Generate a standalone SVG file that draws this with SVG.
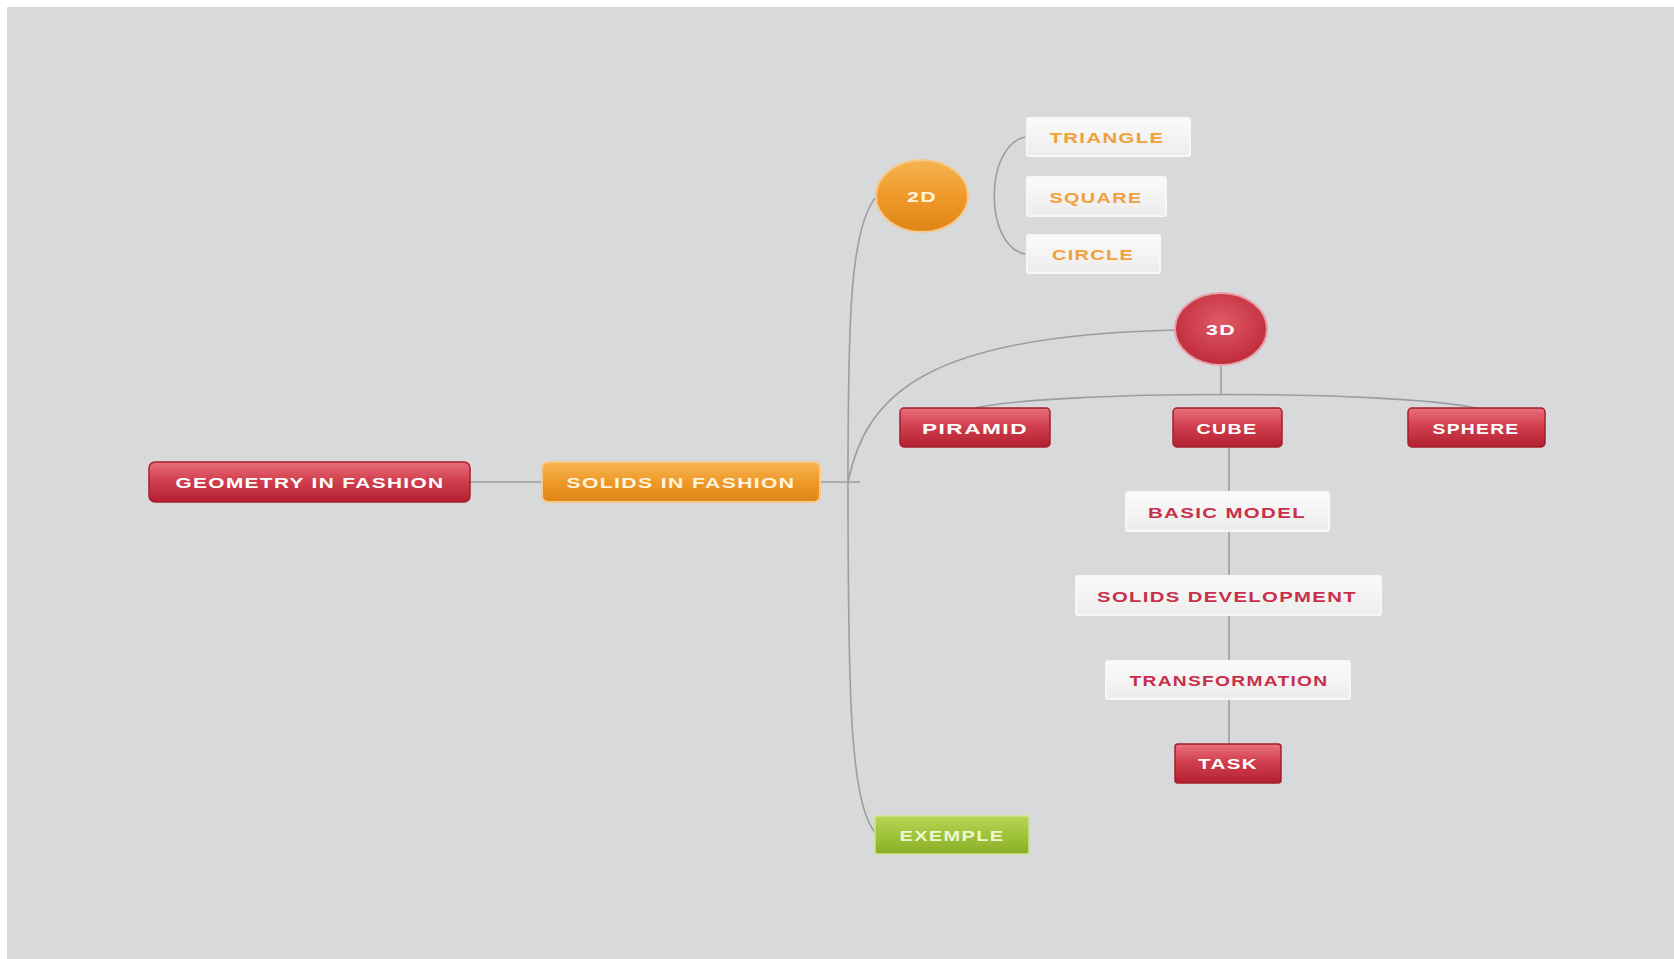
<svg xmlns="http://www.w3.org/2000/svg" width="1674" height="959" viewBox="0 0 1674 959">
<defs>
<linearGradient id="gRed" x1="0" y1="0" x2="0" y2="1">
<stop offset="0" stop-color="#e8707c"/><stop offset="0.45" stop-color="#d2404f"/><stop offset="1" stop-color="#b3202f"/>
</linearGradient>
<linearGradient id="gOrange" x1="0" y1="0" x2="0" y2="1">
<stop offset="0" stop-color="#f6b452"/><stop offset="0.5" stop-color="#ee9a2a"/><stop offset="1" stop-color="#e08418"/>
</linearGradient>
<linearGradient id="gGreen" x1="0" y1="0" x2="0" y2="1">
<stop offset="0" stop-color="#b8d458"/><stop offset="0.5" stop-color="#9fc33a"/><stop offset="1" stop-color="#8aae26"/>
</linearGradient>
<linearGradient id="gWhite" x1="0" y1="0" x2="0" y2="1">
<stop offset="0" stop-color="#fbfbfb"/><stop offset="1" stop-color="#ececec"/>
</linearGradient>
<radialGradient id="rRed" cx="0.5" cy="0.4" r="0.6">
<stop offset="0" stop-color="#e05a66"/><stop offset="1" stop-color="#bf2a3a"/>
</radialGradient>
<radialGradient id="rOrange" cx="0.5" cy="0.4" r="0.6">
<stop offset="0" stop-color="#f5a93c"/><stop offset="1" stop-color="#e4891c"/>
</radialGradient>
</defs>
<style>
.bg{fill:#d8d9da}
.conn{fill:none;stroke:#9c9d9f;stroke-width:1.6}
.red{fill:url(#gRed);stroke:#a51e2e;stroke-width:1.5}
.orange{fill:url(#gOrange);stroke:#f7c98a;stroke-width:2}
.green{fill:url(#gGreen);stroke:#cfe38a;stroke-width:1.5}
.white{fill:url(#gWhite);stroke:#f7f7f7;stroke-width:2}
.t{font-family:"Liberation Sans",Arial,sans-serif;font-weight:bold;font-size:15px;text-anchor:middle;letter-spacing:1px}
.tw{fill:#ffffff}
.to{fill:#f2a03a}
.tr{fill:#c8304a}
.tg{fill:#f0f6cc}
.tc{fill:#fff4dc}
</style>
<rect x="0" y="0" width="1674" height="959" fill="#ffffff"/>
<rect class="bg" x="7" y="7" width="1667" height="952"/>

<g id="connectors">
<line class="conn" x1="470" y1="482" x2="542" y2="482"/>
<line class="conn" x1="820" y1="482" x2="860" y2="482"/>
<path class="conn" d="M848,482 C848,320 850,225 877,196"/>
<path class="conn" d="M848,482 C848,700 850,805 877,835"/>
<path class="conn" d="M848,482 C866,395 925,335 1177,330"/>
<path class="conn" d="M1025,137 C984,146 984,246 1025,254"/>
<line class="conn" x1="1221" y1="364" x2="1221" y2="394"/>
<path class="conn" d="M975,408 C1060,390 1390,390 1476,408"/>
<line class="conn" x1="1229" y1="448" x2="1229" y2="744"/>
</g>

<g id="node-geometry">
<rect class="red" x="149" y="462" width="321" height="40" rx="6"/>
<text class="t tw" x="310" y="487.5" textLength="269" lengthAdjust="spacingAndGlyphs">GEOMETRY IN FASHION</text>
</g>
<g id="node-solids">
<rect class="orange" x="542" y="462" width="278" height="40" rx="6"/>
<text class="t tc" x="681" y="487.5" textLength="229" lengthAdjust="spacingAndGlyphs">SOLIDS IN FASHION</text>
</g>
<g id="node-2d">
<ellipse class="orange" cx="922" cy="196" rx="46" ry="36"/>
<text class="t tc" x="922" y="201.5" textLength="30" lengthAdjust="spacingAndGlyphs">2D</text>
</g>
<g id="node-triangle">
<rect class="white" x="1027" y="118" width="163" height="38" rx="2"/>
<text class="t to" x="1107" y="142.5" textLength="115" lengthAdjust="spacingAndGlyphs">TRIANGLE</text>
</g>
<g id="node-square">
<rect class="white" x="1027" y="177" width="139" height="39" rx="2"/>
<text class="t to" x="1096" y="202.5" textLength="93" lengthAdjust="spacingAndGlyphs">SQUARE</text>
</g>
<g id="node-circle">
<rect class="white" x="1027" y="235" width="133" height="38" rx="2"/>
<text class="t to" x="1093" y="259.5" textLength="82" lengthAdjust="spacingAndGlyphs">CIRCLE</text>
</g>
<g id="node-3d">
<ellipse cx="1221" cy="329" rx="46" ry="36" fill="url(#rRed)" stroke="#e8a0a8" stroke-width="2"/>
<text class="t tw" x="1221" y="334.5" textLength="30" lengthAdjust="spacingAndGlyphs">3D</text>
</g>
<g id="node-piramid">
<rect class="red" x="900" y="408" width="150" height="39" rx="4"/>
<text class="t tw" x="975" y="433.5" textLength="106" lengthAdjust="spacingAndGlyphs">PIRAMID</text>
</g>
<g id="node-cube">
<rect class="red" x="1173" y="408" width="109" height="39" rx="4"/>
<text class="t tw" x="1227" y="433.5" textLength="61" lengthAdjust="spacingAndGlyphs">CUBE</text>
</g>
<g id="node-sphere">
<rect class="red" x="1408" y="408" width="137" height="39" rx="4"/>
<text class="t tw" x="1476" y="433.5" textLength="87" lengthAdjust="spacingAndGlyphs">SPHERE</text>
</g>
<g id="node-basic">
<rect class="white" x="1126" y="492" width="203" height="39" rx="2"/>
<text class="t tr" x="1227" y="517.5" textLength="158" lengthAdjust="spacingAndGlyphs">BASIC MODEL</text>
</g>
<g id="node-soldev">
<rect class="white" x="1076" y="576" width="305" height="39" rx="2"/>
<text class="t tr" x="1227" y="601.5" textLength="260" lengthAdjust="spacingAndGlyphs">SOLIDS DEVELOPMENT</text>
</g>
<g id="node-transformation">
<rect class="white" x="1106" y="661" width="244" height="38" rx="2"/>
<text class="t tr" x="1229" y="685.5" textLength="199" lengthAdjust="spacingAndGlyphs">TRANSFORMATION</text>
</g>
<g id="node-task">
<rect class="red" x="1175" y="744" width="106" height="39" rx="3"/>
<text class="t tw" x="1228" y="769" textLength="60" lengthAdjust="spacingAndGlyphs">TASK</text>
</g>
<g id="node-exemple">
<rect class="green" x="875" y="816" width="154" height="38" rx="2"/>
<text class="t tg" x="952" y="840.5" textLength="105" lengthAdjust="spacingAndGlyphs">EXEMPLE</text>
</g>
</svg>
